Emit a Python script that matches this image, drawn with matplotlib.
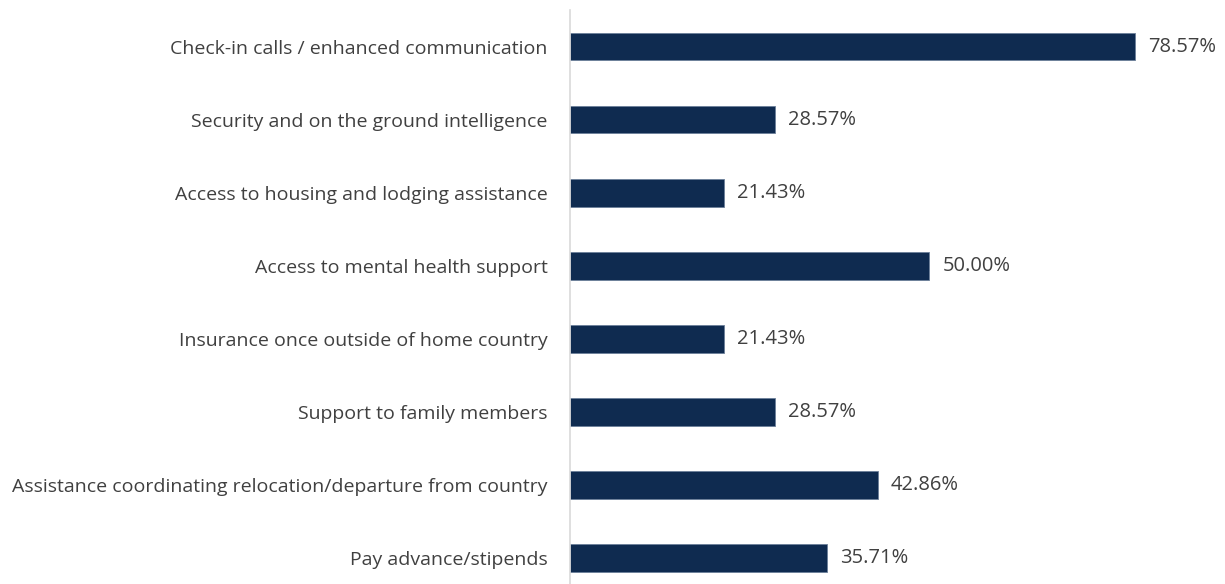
import matplotlib.pyplot as plt

categories = [
    "Check-in calls / enhanced communication",
    "Security and on the ground intelligence",
    "Access to housing and lodging assistance",
    "Access to mental health support",
    "Insurance once outside of home country",
    "Support to family members",
    "Assistance coordinating relocation/departure from country",
    "Pay advance/stipends",
]
values = [78.57, 28.57, 21.43, 50.00, 21.43, 28.57, 42.86, 35.71]

plt.rcParams['font.family'] = ['Open Sans', 'DejaVu Sans']

fig = plt.figure(figsize=(12.25, 5.84), dpi=100)
ax = fig.add_axes([570 / 1225, -10.5 / 584, 647 / 1225, 584.5 / 584])

y = list(range(len(categories)))
ax.barh(y, values, height=0.38, color='#0f2b50', edgecolor='#6b7f99', linewidth=0.6)
for yi, v in zip(y, values):
    ax.text(v + 1.8, yi, f"{v:.2f}%", va='center', ha='left', fontsize=14.5, color='#404040')

ax.set_xlim(0, 90)
ax.set_ylim(7.5, -0.5)
ax.set_yticks(y)
ax.set_yticklabels(categories, fontsize=14, color='#404040')
ax.tick_params(axis='y', length=0, pad=16)
ax.set_xticks([])
for s in ['top', 'right', 'bottom']:
    ax.spines[s].set_visible(False)
ax.spines['left'].set_color('#d9d9d9')
ax.spines['left'].set_linewidth(1.2)

fig.savefig('out.png', dpi=100)
